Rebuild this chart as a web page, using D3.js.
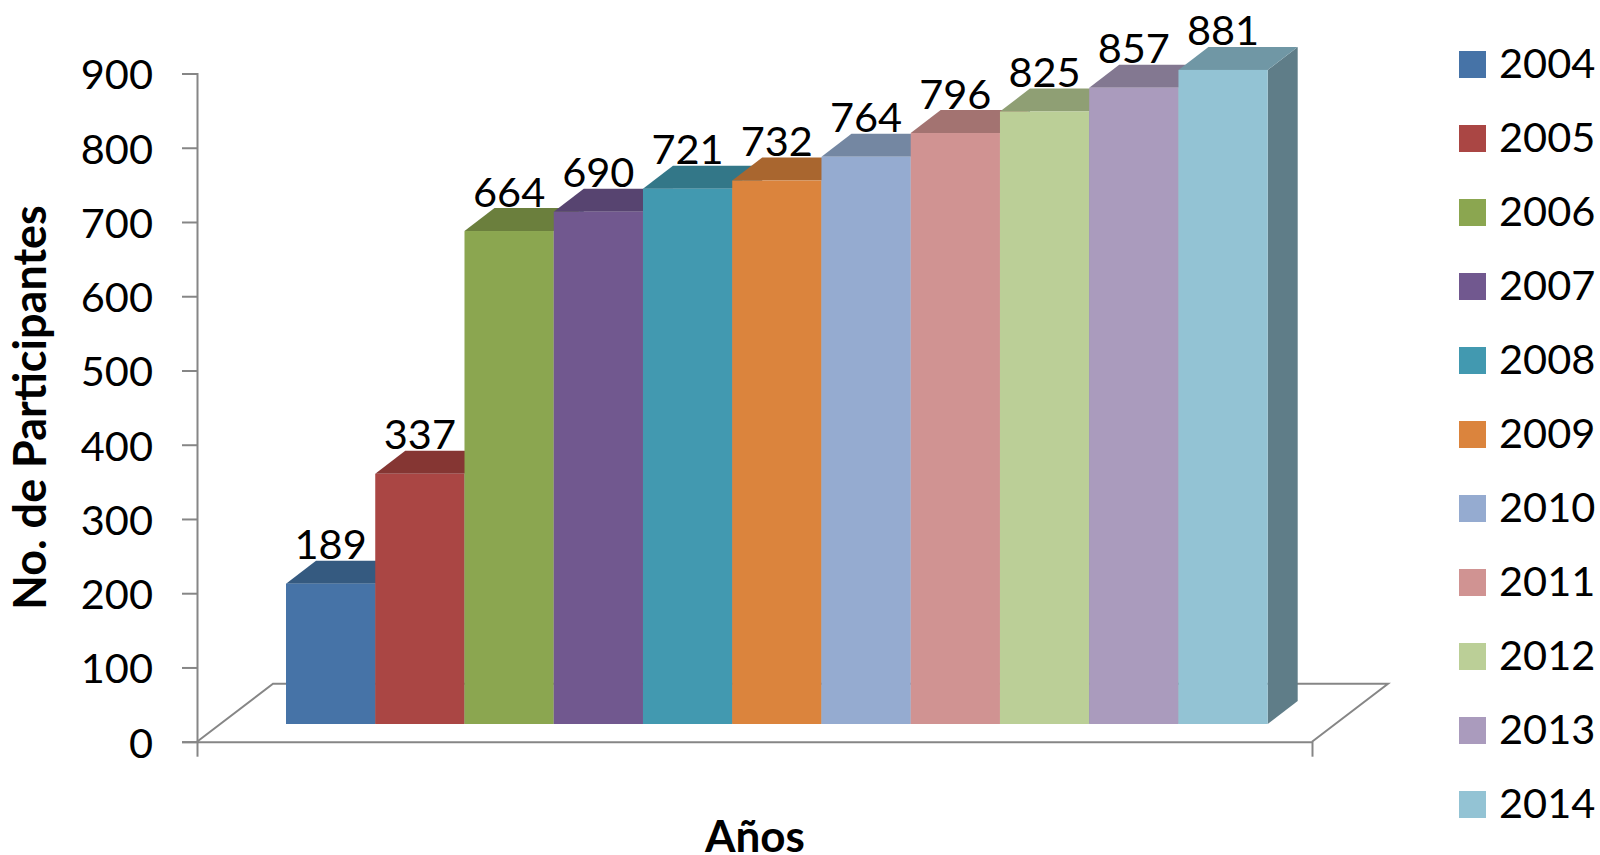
<!DOCTYPE html>
<html>
<head>
<meta charset="utf-8">
<script src="https://cdn.jsdelivr.net/npm/d3@7"></script>
<style>
    html, body { margin: 0; background: #fff; }
    svg { display: block; }
    text { font-family: Lato, sans-serif; fill: #000; }
    .domain, .tick line { stroke: #868686; stroke-width: 2; }
    .tick text { font-size: 41.5px; font-family: Lato, sans-serif; fill: #000; }
    .axis-title { font-size: 44px; font-weight: 700; }
</style>
</head>
<body>
<script>
// data
const years = ['2004', '2005', '2006', '2007', '2008', '2009', '2010', '2011', '2012', '2013', '2014']
const participants = [189, 337, 664, 690, 721, 732, 764, 796, 825, 857, 881]
const yTicks = [0, 100, 200, 300, 400, 500, 600, 700, 800, 900]

const frontColors = ['#4673a7', '#aa4644', '#8ba650', '#71588f', '#4299b0', '#db843d', '#95abd0', '#d09392', '#bbcf97', '#aa9bbd', '#93c3d4']
const topColors = ['#355a80', '#853633', '#6b7f3d', '#574470', '#337788', '#a9662f', '#7487a2', '#a37371', '#8f9f74', '#837891', '#7097a5']
const sideColor = '#5f7d88'

const width = 1600
const height = 855

const svg = d3.select('body').append('svg')
    .attr('width', width)
    .attr('height', height)

// scales
const axisX = 197
const floorRight = 1312
const floorY = 741.7
const yScale = d3.scaleLinear().domain([0, 900]).range([floorY, 73.5])
const xScale = d3.scaleBand().domain(years).range([286, 1267.7])

// 3d offsets
const floorDx = 76
const floorDy = -58
const barLift = -17.7
const barDx = 30
const barDy = -23

// floor
svg.append('path')
    .attr('d', d3.line()([
        [axisX, floorY],
        [axisX + floorDx, floorY + floorDy],
        [floorRight + floorDx, floorY + floorDy],
        [floorRight, floorY]
    ]))
    .attr('fill', 'none')
    .attr('stroke', '#868686')
    .attr('stroke-width', 2)

// axes
const yAxis = d3.axisLeft(yScale).tickValues(yTicks).tickSize(15).tickPadding(29).tickFormat(d3.format('d'))
svg.append('g')
    .attr('transform', `translate(${axisX},0)`)
    .call(yAxis)
    .selectAll('.tick text')
    .attr('dy', '0.37em')

const xAxisScale = d3.scaleLinear().domain([0, 1]).range([axisX, floorRight])
const xAxis = d3.axisBottom(xAxisScale).tickValues([0, 1]).tickSize(15).tickSizeOuter(0).tickFormat('')
svg.append('g')
    .attr('transform', `translate(0,${floorY})`)
    .call(xAxis)

// bars
const bars = svg.selectAll('g.bar')
    .data(years)
    .join('g')
    .attr('class', 'bar')

bars.each(function (year, i) {
    const g = d3.select(this)
    const x0 = xScale(year)
    const x1 = x0 + xScale.bandwidth()
    const yTop = yScale(participants[i]) + barLift
    const yBase = yScale(0) + barLift

    g.append('path')
        .attr('d', d3.line()([[x1, yTop], [x1 + barDx, yTop + barDy], [x1 + barDx, yBase + barDy], [x1, yBase]]) + 'Z')
        .attr('fill', sideColor)
    g.append('path')
        .attr('d', d3.line()([[x0, yTop], [x0 + barDx, yTop + barDy], [x1 + barDx, yTop + barDy], [x1, yTop]]) + 'Z')
        .attr('fill', topColors[i])
    g.append('rect')
        .attr('x', x0)
        .attr('y', yTop)
        .attr('width', xScale.bandwidth())
        .attr('height', yBase - yTop)
        .attr('fill', frontColors[i])
})

// value labels go on top of every bar
svg.selectAll('text.value')
    .data(years)
    .join('text')
    .attr('class', 'value')
    .attr('x', d => xScale(d) + xScale.bandwidth() / 2)
    .attr('y', (d, i) => yScale(participants[i]) + barLift - 24.5)
    .attr('text-anchor', 'middle')
    .attr('font-size', 41.5)
    .text((d, i) => participants[i])

// axis titles
svg.append('text')
    .attr('class', 'axis-title')
    .attr('x', 755)
    .attr('y', 852)
    .attr('text-anchor', 'middle')
    .text('Años')

svg.append('text')
    .attr('class', 'axis-title')
    .attr('text-anchor', 'middle')
    .attr('font-size', 45)
    .style('font-size', '45px')
    .attr('transform', 'translate(46,407.5) rotate(-90)')
    .text('No. de Participantes')

// legend
const legendScale = d3.scalePoint().domain(years).range([64.5, 804.5])
const legend = svg.selectAll('g.legend')
    .data(years)
    .join('g')
    .attr('class', 'legend')
    .attr('transform', d => `translate(1459,${legendScale(d)})`)

legend.append('rect')
    .attr('y', -13.5)
    .attr('width', 27)
    .attr('height', 27)
    .attr('fill', (d, i) => frontColors[i])

legend.append('text')
    .attr('x', 40)
    .attr('y', 13)
    .attr('font-size', 41.5)
    .text(d => d)
</script>
</body>
</html>
